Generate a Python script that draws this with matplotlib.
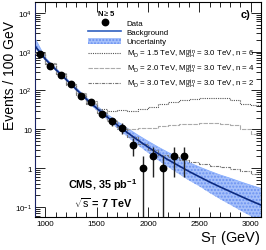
import numpy as np
import matplotlib
matplotlib.use("Agg")
import matplotlib.pyplot as plt
from matplotlib.lines import Line2D
from matplotlib.patches import Patch
from matplotlib.ticker import FixedLocator, FixedFormatter, MultipleLocator, NullFormatter

plt.rcParams['font.family'] = ['Liberation Sans', 'DejaVu Sans']
plt.rcParams['mathtext.fontset'] = 'custom'
plt.rcParams['mathtext.rm'] = 'Liberation Sans'
plt.rcParams['mathtext.it'] = 'Liberation Sans'
plt.rcParams['mathtext.bf'] = 'Liberation Sans:bold'

# ---- data ----
bin_centers = [950, 1050, 1150, 1250, 1350, 1450, 1550, 1650, 1750, 1850, 1950,
               2050, 2150, 2250, 2350, 2450, 2550, 2650, 2750, 2850, 2950, 3050]
data_x = [950, 1050, 1150, 1250, 1350, 1450, 1550, 1650, 1750, 1850, 1950, 2050, 2150, 2250, 2350]
data_y = [870, 435, 255, 150, 72, 51, 25, 16, 11, 4, 1, 2, 1, 2, 2]

bg_x = [900, 1000, 1100, 1200, 1300, 1400, 1500, 1600, 1700, 1800, 1900, 2000,
        2100, 2200, 2300, 2400, 2500, 2600, 2700, 2800, 2900, 3000, 3100]
bg_y = [1400, 640, 350, 195, 108, 60, 35, 21, 13, 8.2, 5.3, 3.5,
        2.35, 1.62, 1.15, 0.82, 0.60, 0.44, 0.33, 0.25, 0.19, 0.145, 0.112]
unc_hi = [2220, 701, 380, 211, 118, 65.8, 40.2, 24.7, 16.0, 10.6, 7.15, 4.95,
          3.48, 2.51, 1.87, 1.39, 1.07, 0.84, 0.67, 0.55, 0.445, 0.364, 0.30]
unc_lo = [1220, 584, 323, 180, 98.5, 54.7, 30.5, 17.9, 10.6, 6.37, 3.93, 2.48,
          1.59, 1.05, 0.71, 0.48, 0.34, 0.23, 0.16, 0.114, 0.081, 0.058, 0.042]

# signal + background histograms (per bin)
sig_a = [920, 500, 275, 150, 85, 52, 33, 30, 31, 29, 33, 38, 44, 51, 57, 62, 65, 65, 64, 56, 45, 41]
sig_b = [905, 485, 265, 143, 80, 47, 28, 17, 11.5, 10, 10.5, 11, 12, 13, 13.5, 14, 14.5, 14.5, 14, 13, 10, 7.5]
sig_c = [900, 480, 260, 140, 78, 45, 26, 16, 10, 6.3, 4.2, 2.85, 2.2, 1.9, 1.6, 1.4, 1.25, 1.15, 1.05, 0.95, 0.82, 0.7]

labels_sig = [r"M$_\mathrm{D}$ = 1.5 TeV, M$_\mathrm{BH}^\mathrm{min}$ = 3.0 TeV, n = 6",
              r"M$_\mathrm{D}$ = 2.0 TeV, M$_\mathrm{BH}^\mathrm{min}$ = 3.0 TeV, n = 4",
              r"M$_\mathrm{D}$ = 3.0 TeV, M$_\mathrm{BH}^\mathrm{min}$ = 3.0 TeV, n = 2"]

y_ticks = [0.1, 1, 10, 100, 1000, 10000]
y_ticklabels = [r"$10^{-1}$", "1", "10", r"$10^{2}$", r"$10^{3}$", r"$10^{4}$"]
x_ticks = [1000, 1500, 2000, 2500, 3000]

# ---- figure ----
fig = plt.figure(figsize=(2.66, 2.51), dpi=100)
ax = fig.add_axes([0.1316, 0.1315, 0.849, 0.8565])
ax.set_yscale('log')

band_col = '#a6c0fa'
ax.fill_between(bg_x, unc_lo, unc_hi, facecolor=band_col, edgecolor='#6a92f2',
                hatch='.....', linewidth=0.0, zorder=2)
ax.plot(bg_x, unc_hi, color='#8ab0ff', lw=0.6, zorder=2)
ax.plot(bg_x, bg_y, color='#0c2a80', lw=1.2, zorder=4)

edges = [c - 50 for c in bin_centers] + [bin_centers[-1] + 50]
def steps(vals):
    return edges, list(vals) + [vals[-1]]

ex, ey = steps(sig_a)
ax.step(ex, ey, where='post', color='#555555', lw=0.8, ls=(0, (1, 1)), zorder=3)
ex, ey = steps(sig_b)
ax.step(ex, ey, where='post', color='#aaaaaa', lw=0.8, ls=(0, (4, 1)), zorder=3)
ex, ey = steps(sig_c)
ax.step(ex, ey, where='post', color='#777777', lw=0.8, ls=(0, (3, 1, 1, 1)), zorder=3)

dy = np.array(data_y, dtype=float)
err = np.sqrt(dy)
lo = np.minimum(err, dy - 1e-4)
ax.errorbar(data_x, dy, yerr=[lo, err], fmt='o', color='black', ecolor='#222222',
            ms=4.6, elinewidth=1.0, capsize=0, zorder=5)

ax.set_xlim(900, 3100)
ax.set_ylim(0.055, 1.9e4)

ax.yaxis.set_major_locator(FixedLocator(y_ticks))
ax.yaxis.set_major_formatter(FixedFormatter(y_ticklabels))
minor = [m * 10.0 ** e for e in range(-2, 5) for m in range(2, 10)]
ax.yaxis.set_minor_locator(FixedLocator(minor))
ax.yaxis.set_minor_formatter(NullFormatter())
ax.xaxis.set_major_locator(FixedLocator(x_ticks))
ax.xaxis.set_minor_locator(MultipleLocator(100))

ax.tick_params(which='both', direction='in', top=True, right=True, labelsize=5.8, pad=2)
ax.tick_params(which='major', length=7, width=0.6)
ax.tick_params(which='minor', length=3.5, width=0.6)
for s in ax.spines.values():
    s.set_linewidth(0.8)
ax.spines['left'].set_color('#1a2466')

ax.set_ylabel("Events / 100 GeV", fontsize=10, labelpad=1)
ax.yaxis.set_label_coords(-0.078, 0.665)
ax.set_xlabel(r"S$_\mathrm{T}$ (GeV)", fontsize=10.5, loc='right', labelpad=1)

ax.text(0.30, 0.155, r"CMS, 35 pb$^\mathbf{-1}$", transform=ax.transAxes, fontsize=7.8,
        fontweight='bold', ha='center', va='center')
ax.text(0.30, 0.07, r"$\sqrt{\mathrm{s}}$ = 7 TeV", transform=ax.transAxes, fontsize=7.8,
        fontweight='bold', ha='center', va='center')
ax.text(0.955, 0.945, "c)", transform=ax.transAxes, fontsize=8, fontweight='bold',
        ha='right', va='center')
ax.text(0.275, 0.952, r"N$\geq$5", transform=ax.transAxes, fontsize=5.5,
        fontweight='bold', ha='left', va='center')

handles = [
    Line2D([], [], marker='o', ls='none', color='black', ms=4.6),
    Line2D([], [], color='#3060c0', lw=1.2),
    Patch(facecolor=band_col, edgecolor='#6a92f2', hatch='.....', lw=0),
    Line2D([], [], color='#555555', lw=0.8, ls=(0, (1, 1))),
    Line2D([], [], color='#aaaaaa', lw=0.8, ls=(0, (4, 1))),
    Line2D([], [], color='#777777', lw=0.8, ls=(0, (3, 1, 1, 1))),
]
labels = ["Data", "Background", "Uncertainty"] + labels_sig
ax.legend(handles, labels, loc='upper left', bbox_to_anchor=(0.235, 0.922),
          frameon=False, fontsize=5.7, handlelength=4.2, handletextpad=0.7,
          labelspacing=0.2, borderpad=0, borderaxespad=0, handleheight=0.8)

fig.savefig("out.png", dpi=100)
